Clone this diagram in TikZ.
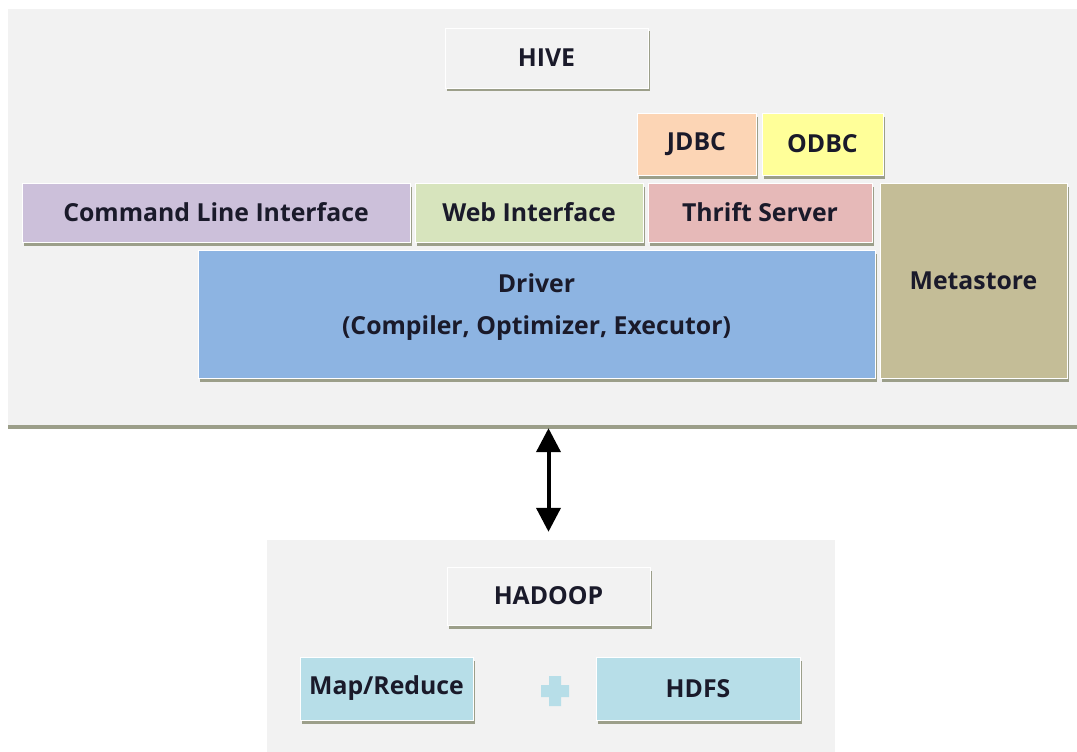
\documentclass[tikz,border=0pt]{standalone}
\usepackage{fontspec}
\setmainfont{Open Sans}
\usetikzlibrary{shadows,arrows.meta}
\definecolor{panelgray}{HTML}{F2F2F2}
\definecolor{shadowc}{HTML}{9C9F8A}
\definecolor{clic}{HTML}{CCC0DA}
\definecolor{webc}{HTML}{D7E4BD}
\definecolor{thriftc}{HTML}{E6B9B8}
\definecolor{jdbcc}{HTML}{FCD5B5}
\definecolor{odbcc}{HTML}{FFFF99}
\definecolor{driverc}{HTML}{8DB4E2}
\definecolor{metac}{HTML}{C4BD97}
\definecolor{hadoopc}{HTML}{B7DEE8}
\definecolor{textc}{HTML}{1A1A2A}
\tikzset{
  blk/.style={rectangle, draw=white, line width=0.8pt, inner sep=0pt, text=textc,
    drop shadow={shadow xshift=2pt, shadow yshift=-3.5pt, fill=shadowc, opacity=1}},
  panel/.style={rectangle, fill=panelgray, inner sep=0pt,
    drop shadow={shadow xshift=0pt, shadow yshift=-3.5pt, fill=shadowc, opacity=1}},
}
\begin{document}
\begin{tikzpicture}[x=1pt, y=-1pt, font=\bfseries\fontsize{24.8}{29}\selectfont]
  \useasboundingbox[fill=white] (0,0) rectangle (1077,752);
  \node[panel, minimum width=1069pt, minimum height=416pt] (hive) at (542.5,217) {};
  \node[panel, minimum width=568pt, minimum height=212pt] (hadoop) at (551,646) {};
  \node[blk, fill=panelgray, minimum width=203pt, minimum height=60pt] (hivelbl) at (546.5,58) {HIVE};
  \node[blk, fill=jdbcc, minimum width=119pt, minimum height=62pt] (jdbc) at (696.5,144) {JDBC};
  \node[blk, fill=odbcc, minimum width=121pt, minimum height=62pt] (odbc) at (822.5,144) {ODBC};
  \node[blk, fill=clic, minimum width=388pt, minimum height=59pt] (cli) at (216,212.5) {Command Line Interface};
  \node[blk, fill=webc, minimum width=228pt, minimum height=59pt] (web) at (529,212.5) {Web Interface};
  \node[blk, fill=thriftc, minimum width=224pt, minimum height=59pt] (thrift) at (760,212.5) {Thrift Server};
  \node[blk, fill=driverc, minimum width=677pt, minimum height=128pt, align=center, text depth=19pt] (driver) at (536.5,314)
    {Driver\\[13pt](Compiler, Optimizer, Executor)};
  \node[blk, fill=metac, minimum width=187pt, minimum height=195pt] (meta) at (973.5,280.5) {Metastore};
  \node[blk, fill=panelgray, minimum width=203pt, minimum height=58pt] (hadooplbl) at (548.5,596) {HADOOP};
  \node[blk, fill=hadoopc, minimum width=173pt, minimum height=63pt] (mr) at (386.5,688.5) {Map/Reduce};
  \node[blk, fill=hadoopc, minimum width=204pt, minimum height=63pt] (hdfs) at (698,688.5) {HDFS};
  \fill[hadoopc] (549,676) rectangle (561,706) (541,685) rectangle (569,697);
  \draw[line width=4pt, {Triangle[width=24pt,length=24pt]}-{Triangle[width=24pt,length=24pt]}]
    ([yshift=-3pt]hive.south -| hadooplbl) -- ([yshift=8pt]hadoop.north -| hadooplbl);
\end{tikzpicture}
\end{document}
